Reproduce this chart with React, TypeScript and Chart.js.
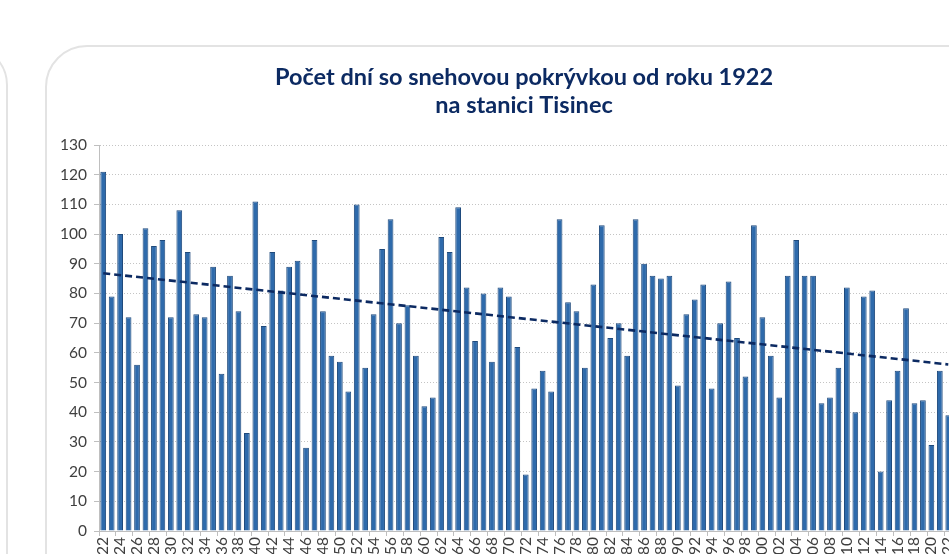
import React, { useEffect, useRef } from "react";
import { Chart, registerables } from "chart.js";

Chart.register(...registerables);

const titleLines = ["Počet dní so snehovou pokrývkou od roku 1922", "na stanici Tisinec"];

const firstYear = 1922;
const lastYear = 2022;
const years: string[] = [];
for (let y = firstYear; y <= lastYear; y++) years.push(String(y));

const snowDays = [
  121, 79, 100, 72, 56, 102, 96, 98, 72, 108,
  94, 73, 72, 89, 53, 86, 74, 33, 111, 69,
  94, 81, 89, 91, 28, 98, 74, 59, 57, 47,
  110, 55, 73, 95, 105, 70, 76, 59, 42, 45,
  99, 94, 109, 82, 64, 80, 57, 82, 79, 62,
  19, 48, 54, 47, 105, 77, 74, 55, 83, 103,
  65, 70, 59, 105, 90, 86, 85, 86, 49, 73,
  78, 83, 48, 70, 84, 65, 52, 103, 72, 59,
  45, 86, 98, 86, 86, 43, 45, 55, 82, 40,
  79, 81, 20, 44, 54, 75, 43, 44, 29, 54,
  39,
];

// trend line values read at first and last year
const trendEnds = [86.8, 56.1];

const yTicks = { min: 0, max: 130, step: 10 };

export default function App() {
  const ref = useRef<HTMLCanvasElement | null>(null);

  useEffect(() => {
    if (!ref.current) return;
    const n = years.length;
    const trendData = years.map((_, i) => (i === 0 ? trendEnds[0] : i === n - 1 ? trendEnds[1] : null));
    const tickFont = { family: "Lato", size: 15.5 };
    const chart = new Chart(ref.current, {
      type: "bar",
      data: {
        labels: years,
        datasets: [
          {
            type: "line",
            data: trendData as any,
            borderColor: "#0c2a62",
            borderWidth: 2.6,
            borderDash: [7, 4],
            pointRadius: 0,
            spanGaps: true,
            fill: false,
            order: 0,
          } as any,
          {
            type: "bar",
            data: snowDays,
            backgroundColor: "#2e6aab",
            borderColor: "#1f4a7c",
            borderWidth: 1,
            barPercentage: 0.68,
            categoryPercentage: 1,
            order: 1,
          },
        ],
      },
      options: {
        animation: false,
        responsive: false,
        maintainAspectRatio: false,
        devicePixelRatio: 1,
        layout: { padding: { left: 12, right: 12, top: 0, bottom: 26 } },
        plugins: {
          legend: { display: false },
          tooltip: { enabled: false },
          title: {
            display: true,
            text: titleLines,
            color: "#0c2a62",
            font: { family: "Lato", weight: "bold", size: 23.5, lineHeight: "28.7px" },
            padding: { top: 15.6, bottom: 25 },
          },
        },
        scales: {
          x: {
            type: "category",
            offset: true,
            grid: {
              offset: true,
              drawOnChartArea: false,
              drawTicks: true,
              tickLength: 5,
              tickColor: (ctx: any) => (ctx.index % 2 === 0 ? "#bfbfbf" : "rgba(0,0,0,0)"),
            },
            border: { color: "#bfbfbf", width: 1 },
            ticks: {
              autoSkip: false,
              maxRotation: 90,
              minRotation: 90,
              padding: 1,
              color: "#404040",
              font: tickFont,
              callback: (_v: any, i: number) => (i % 2 === 0 ? years[i] : ""),
            },
            afterFit: (s: any) => {
              s.height = 50;
            },
          },
          y: {
            type: "linear",
            position: "left",
            min: yTicks.min,
            max: yTicks.max,
            ticks: { stepSize: yTicks.step, padding: 7, color: "#404040", font: tickFont },
            grid: {
              color: "#c4c4c4",
              lineWidth: 1,
              tickLength: 5,
              tickColor: "#bfbfbf",
              tickBorderDash: [],
            },
            border: { color: "#bfbfbf", width: 1, dash: [1, 2] },
            afterFit: (s: any) => {
              s.width = 40;
            },
          },
          y2: {
            type: "linear",
            position: "right",
            display: true,
            ticks: { display: false },
            grid: { display: false },
            border: { display: false },
            afterFit: (s: any) => {
              s.width = 36.5;
            },
          },
        },
      } as any,
    });
    return () => chart.destroy();
  }, []);

  return (
    <div
      style={{
        position: "fixed",
        left: 0,
        top: 0,
        width: "100vw",
        height: "100vh",
        overflow: "hidden",
        background: "#ffffff",
      }}
    >
      <div
        style={{
          position: "absolute",
          left: -400,
          top: 45,
          width: 408,
          height: 700,
          boxSizing: "border-box",
          border: "2.5px solid #e3e3e3",
          borderRadius: 40,
          background: "#ffffff",
        }}
      />
      <div
        style={{
          position: "absolute",
          left: 45,
          top: 45,
          width: 958,
          height: 700,
          boxSizing: "border-box",
          border: "2.5px solid #e3e3e3",
          borderRadius: 42,
          background: "#ffffff",
        }}
      />
      <canvas
        ref={ref}
        width={954}
        height={560}
        style={{ position: "absolute", left: 47, top: 47, width: 954, height: 560 }}
      />
    </div>
  );
}
